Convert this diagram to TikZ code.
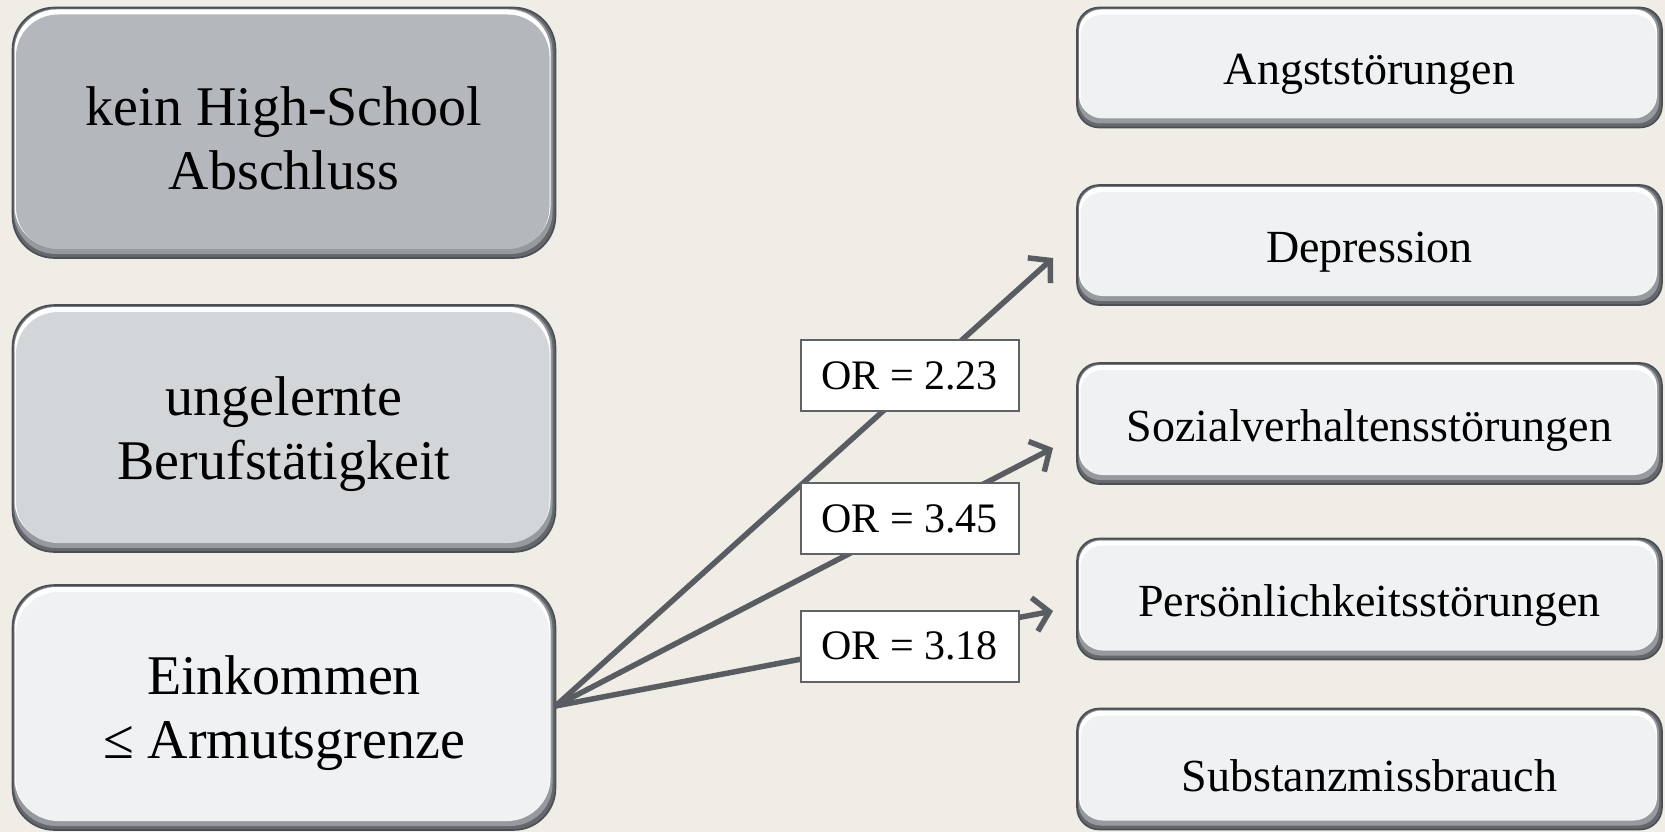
\documentclass[tikz,border=0pt]{standalone}
\usepackage{fontspec}
\setmainfont{Liberation Serif}
\usetikzlibrary{arrows.meta}
\definecolor{bg}{RGB}{240,237,230}
\definecolor{bline}{RGB}{74,79,84}
\definecolor{bdark}{RGB}{100,104,109}
\definecolor{bmid}{RGB}{150,154,158}
\definecolor{fillA}{RGB}{180,184,188}
\definecolor{fillB}{RGB}{211,214,217}
\definecolor{fillC}{RGB}{240,241,242}
\definecolor{arr}{RGB}{89,93,98}
\definecolor{lblline}{RGB}{95,99,104}
\tikzset{
  bigfont/.style={font=\fontsize{56}{64}\selectfont, yshift=-6pt},
  smallfont/.style={font=\fontsize{46}{54}\selectfont, yshift=-7pt},
  lblfont/.style={font=\fontsize{42}{50}\selectfont},
  ortag/.style={draw=lblline, line width=2pt, fill=white, lblfont, minimum width=218pt, minimum height=71pt, inner sep=0pt},
  conn/.style={draw=arr, line width=5.5pt, -{Straight Barb[length=15pt,width=34pt]}},
}
% name, x1, y1, x2, y2, radius, fill, text, style
\newcommand\bevbox[9]{%
  \fill[bdark, rounded corners=#6pt] (#2,#3) rectangle (#4,#5);
  \fill[bmid, rounded corners=#6pt] (#2+1.5,#3+1.5) rectangle (#4-3,#5-4);
  \fill[white, rounded corners=#6pt] (#2+2,#3+2) rectangle (#4-5,#5-10);
  \fill[#7, rounded corners=#6pt] (#2+3.5,#3+7) rectangle (#4-6,#5-9);
  \draw[bline, line width=1.6pt, rounded corners=#6pt] (#2,#3) rectangle (#4,#5);
  \node[#9, align=center, inner sep=0pt] (#1) at ({(#2+#4)/2},{(#3+#5)/2}) {#8};
}
\begin{document}
\begin{tikzpicture}[x=1pt, y=-1pt]
\fill[bg] (0,0) rectangle (1665,832);
\useasboundingbox (0,0) rectangle (1665,832);
\bevbox{hs}{12.5}{7.5}{555.5}{258}{42}{fillA}{kein High-School\\Abschluss}{bigfont}
\bevbox{ub}{12.5}{305}{555.5}{552}{42}{fillB}{ungelernte\\Berufstätigkeit}{bigfont}
\bevbox{ek}{12.5}{585}{555.5}{830}{42}{fillC}{Einkommen\\≤ Armutsgrenze}{bigfont}
\bevbox{an}{1077}{7.5}{1662}{127.5}{22}{fillC}{Angststörungen}{smallfont}
\bevbox{de}{1077}{185}{1662}{305}{22}{fillC}{Depression}{smallfont}
\bevbox{so}{1077}{363}{1662}{484}{22}{fillC}{Sozialverhaltensstörungen}{smallfont}
\bevbox{pe}{1077}{538.5}{1662}{659.5}{22}{fillC}{Persönlichkeitsstörungen}{smallfont}
\bevbox{su}{1077}{708.5}{1662}{829.5}{22}{fillC}{Substanzmissbrauch}{smallfont}
\coordinate (src) at (555.5,706);
\coordinate (t1) at (1053,258);
\coordinate (t2) at (1053,448);
\coordinate (t3) at (1053,611);
\draw[conn] (src) -- (t1);
\draw[conn] (src) -- (t2);
\draw[conn] (src) -- (t3);
\node[ortag] (or1) at (909.5,375.5) {OR = 2.23};
\node[ortag] (or2) at (909.5,518.7) {OR = 3.45};
\node[ortag] (or3) at (909.5,646.2) {OR = 3.18};
\end{tikzpicture}
\end{document}
